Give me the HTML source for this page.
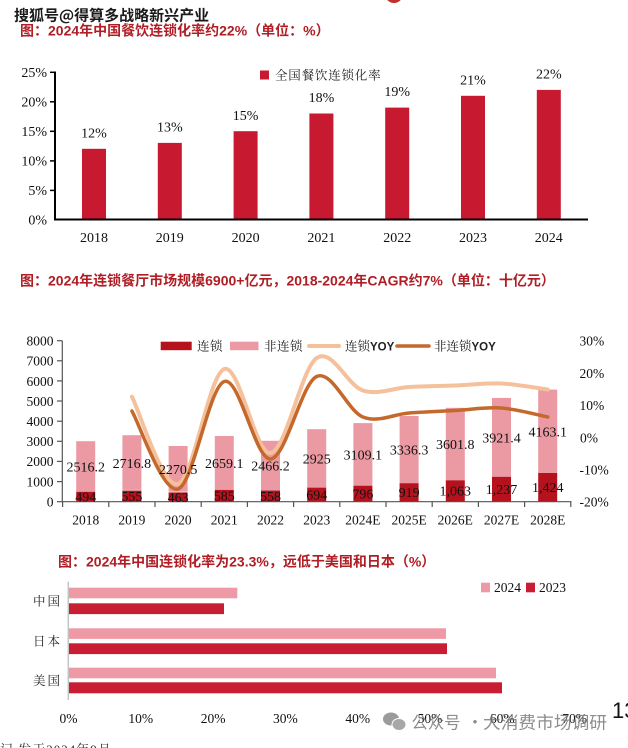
<!DOCTYPE html>
<html><head><meta charset="utf-8">
<style>
html,body{margin:0;padding:0;background:#fff;}
svg{display:block;}
.t{font-family:"Liberation Sans","Noto Sans CJK SC",sans-serif;font-weight:bold;font-size:14px;fill:#B01E25;}
.n{font-family:"Liberation Serif","Noto Serif CJK SC",serif;font-size:14px;fill:#111;}
.n2{font-family:"Liberation Serif","Noto Serif CJK SC",serif;font-size:13.5px;fill:#111;}
.cj{font-family:"Noto Serif CJK SC","Liberation Serif",serif;font-size:12.5px;fill:#222;}
.yoy{font-family:"Liberation Sans","Noto Sans CJK SC",sans-serif;font-weight:bold;font-size:11.5px;fill:#222;}
</style></head>
<body>
<svg width="628" height="748" viewBox="0 0 628 748" xmlns="http://www.w3.org/2000/svg">
<rect width="628" height="748" fill="#fff"/>
<circle cx="394" cy="-6" r="9" fill="#C0302B"/>

<!-- watermark -->
<text x="14" y="20.5" font-family="'Noto Sans CJK SC',sans-serif" font-weight="bold" font-size="15" fill="#1a1a1a" stroke="#fff" stroke-width="2.5" paint-order="stroke">搜狐号@得算多战略新兴产业</text>

<!-- ============ Chart 1 ============ -->
<text class="t" x="20" y="35.5">图：2024年中国餐饮连锁化率约22%（单位：%）</text>

<g class="n" text-anchor="end">
<text x="47" y="224.5">0%</text>
<text x="47" y="195">5%</text>
<text x="47" y="165.5">10%</text>
<text x="47" y="136">15%</text>
<text x="47" y="106.4">20%</text>
<text x="47" y="76.9">25%</text>
</g>
<g stroke="#000" stroke-width="1.5">
<line x1="50" y1="72.3" x2="55" y2="72.3"/>
<line x1="50" y1="101.8" x2="55" y2="101.8"/>
<line x1="50" y1="131.3" x2="55" y2="131.3"/>
<line x1="50" y1="160.9" x2="55" y2="160.9"/>
<line x1="50" y1="190.4" x2="55" y2="190.4"/>
</g>
<g fill="#C71A30">
<rect x="82" y="148.8" width="24" height="70.7"/>
<rect x="157.8" y="142.9" width="24" height="76.6"/>
<rect x="233.6" y="131.2" width="24" height="88.3"/>
<rect x="309.4" y="113.5" width="24" height="106"/>
<rect x="385.2" y="107.6" width="24" height="111.9"/>
<rect x="461" y="95.8" width="24" height="123.7"/>
<rect x="536.8" y="89.9" width="24" height="129.6"/>
</g>
<line x1="55" y1="71.5" x2="55" y2="220.5" stroke="#000" stroke-width="2"/>
<line x1="54" y1="219.5" x2="588" y2="219.5" stroke="#000" stroke-width="2"/>
<g class="n" text-anchor="middle">
<text x="94" y="137.5">12%</text>
<text x="169.8" y="131.5">13%</text>
<text x="245.6" y="119.8">15%</text>
<text x="321.4" y="102">18%</text>
<text x="397.2" y="96">19%</text>
<text x="473" y="84.3">21%</text>
<text x="548.8" y="78.4">22%</text>
</g>
<g class="n" text-anchor="middle">
<text x="94" y="242">2018</text>
<text x="169.8" y="242">2019</text>
<text x="245.6" y="242">2020</text>
<text x="321.4" y="242">2021</text>
<text x="397.2" y="242">2022</text>
<text x="473" y="242">2023</text>
<text x="548.8" y="242">2024</text>
</g>
<rect x="260" y="70.5" width="9" height="9" fill="#C71A30"/>
<text class="cj" x="275" y="79.5" font-size="13" letter-spacing="0.8">全国餐饮连锁化率</text>

<!-- ============ Chart 2 ============ -->
<text class="t" x="20" y="285.5">图：2024年连锁餐厅市场规模6900+亿元，2018-2024年CAGR约7%（单位：十亿元）</text>

<g class="n2" text-anchor="end">
<text x="53.5" y="506.4">0</text>
<text x="53.5" y="486.3">1000</text>
<text x="53.5" y="466.2">2000</text>
<text x="53.5" y="446.1">3000</text>
<text x="53.5" y="426">4000</text>
<text x="53.5" y="405.9">5000</text>
<text x="53.5" y="385.8">6000</text>
<text x="53.5" y="365.7">7000</text>
<text x="53.5" y="345.6">8000</text>
</g>
<g class="n2">
<text x="579.5" y="345.7">30%</text>
<text x="579.5" y="377.9">20%</text>
<text x="579.5" y="410.1">10%</text>
<text x="580" y="442.3">0%</text>
<text x="579.5" y="474.5">-10%</text>
<text x="579.5" y="506.7">-20%</text>
</g>
<g fill="#EB9AA4">
<rect x="76.2" y="441.2" width="19" height="50.6"/>
<rect x="122.4" y="435.2" width="19" height="54.7"/>
<rect x="168.6" y="446" width="19" height="45.7"/>
<rect x="214.8" y="436" width="19" height="53.9"/>
<rect x="261" y="440.8" width="19" height="49.6"/>
<rect x="307.2" y="429.2" width="19" height="58.9"/>
<rect x="353.4" y="423.1" width="19" height="62.6"/>
<rect x="399.6" y="416" width="19" height="67.2"/>
<rect x="445.8" y="407.8" width="19" height="72.5"/>
<rect x="492" y="397.9" width="19" height="78.9"/>
<rect x="538.2" y="389.6" width="19" height="83.8"/>
</g>
<g fill="#B5121E">
<rect x="76.2" y="491.8" width="19" height="9.9"/>
<rect x="122.4" y="490.5" width="19" height="11.2"/>
<rect x="168.6" y="492.4" width="19" height="9.3"/>
<rect x="214.8" y="489.9" width="19" height="11.8"/>
<rect x="261" y="490.5" width="19" height="11.2"/>
<rect x="307.2" y="487.7" width="19" height="14"/>
<rect x="353.4" y="485.7" width="19" height="16"/>
<rect x="399.6" y="483.2" width="19" height="18.5"/>
<rect x="445.8" y="480.3" width="19" height="21.4"/>
<rect x="492" y="476.8" width="19" height="24.9"/>
<rect x="538.2" y="473" width="19" height="28.7"/>
</g>
<g stroke="#555" stroke-width="1.2">
<line x1="62.3" y1="340.7" x2="62.3" y2="502"/>
<line x1="57" y1="340.7" x2="62.3" y2="340.7"/>
<line x1="57" y1="360.8" x2="62.3" y2="360.8"/>
<line x1="57" y1="380.9" x2="62.3" y2="380.9"/>
<line x1="57" y1="401" x2="62.3" y2="401"/>
<line x1="57" y1="421.2" x2="62.3" y2="421.2"/>
<line x1="57" y1="441.3" x2="62.3" y2="441.3"/>
<line x1="57" y1="461.4" x2="62.3" y2="461.4"/>
<line x1="57" y1="481.6" x2="62.3" y2="481.6"/>
<line x1="57" y1="501.7" x2="62.3" y2="501.7"/>
<line x1="62.3" y1="501.7" x2="571.5" y2="501.7"/>
<line x1="62.6" y1="501.7" x2="62.6" y2="507"/>
<line x1="108.8" y1="501.7" x2="108.8" y2="507"/>
<line x1="155" y1="501.7" x2="155" y2="507"/>
<line x1="201.2" y1="501.7" x2="201.2" y2="507"/>
<line x1="247.4" y1="501.7" x2="247.4" y2="507"/>
<line x1="293.6" y1="501.7" x2="293.6" y2="507"/>
<line x1="339.8" y1="501.7" x2="339.8" y2="507"/>
<line x1="386" y1="501.7" x2="386" y2="507"/>
<line x1="432.2" y1="501.7" x2="432.2" y2="507"/>
<line x1="478.4" y1="501.7" x2="478.4" y2="507"/>
<line x1="524.6" y1="501.7" x2="524.6" y2="507"/>
<line x1="570.8" y1="501.7" x2="570.8" y2="507"/>
</g>
<path d="M131.9,396.7 C139.6,411.25 162.7,488.62 178.1,484 C193.5,479.38 208.9,374.17 224.3,369 C239.7,363.83 255.1,454.83 270.5,453 C285.9,451.17 301.3,368.42 316.7,358 C332.1,347.58 347.5,385.67 362.9,390.5 C378.3,395.33 393.7,387.83 409.1,387 C424.5,386.17 439.9,386.08 455.3,385.5 C470.7,384.92 486.1,382.83 501.5,383.5 C516.9,384.17 540,388.5 547.7,389.5" fill="none" stroke="#F5C09C" stroke-width="4" stroke-linecap="round"/>
<path d="M131.9,411 C139.6,424 162.7,493.92 178.1,489 C193.5,484.08 208.9,386.5 224.3,381.5 C239.7,376.5 255.1,459.83 270.5,459 C285.9,458.17 301.3,383.5 316.7,376.5 C332.1,369.5 347.5,410.92 362.9,417 C378.3,423.08 393.7,414.08 409.1,413 C424.5,411.92 439.9,411.33 455.3,410.5 C470.7,409.67 486.1,406.92 501.5,408 C516.9,409.08 540,415.5 547.7,417" fill="none" stroke="#C4692B" stroke-width="3.5" stroke-linecap="round"/>
<g class="n" text-anchor="middle">
<text x="85.7" y="471.5">2516.2</text>
<text x="131.9" y="467.8">2716.8</text>
<text x="178.1" y="473.8">2270.5</text>
<text x="224.3" y="467.9">2659.1</text>
<text x="270.5" y="470.6">2466.2</text>
<text x="316.7" y="463.6">2925</text>
<text x="362.9" y="459.4">3109.1</text>
<text x="409.1" y="454.6">3336.3</text>
<text x="455.3" y="449">3601.8</text>
<text x="501.5" y="442.3">3921.4</text>
<text x="547.7" y="436.5">4163.1</text>
<text x="85.7" y="501.5">494</text>
<text x="131.9" y="500.8">555</text>
<text x="178.1" y="501.8">463</text>
<text x="224.3" y="500.6">585</text>
<text x="270.5" y="500.9">558</text>
<text x="316.7" y="499.4">694</text>
<text x="362.9" y="498.4">796</text>
<text x="409.1" y="497.2">919</text>
<text x="455.3" y="495.7">1,063</text>
<text x="501.5" y="494">1,237</text>
<text x="547.7" y="492">1,424</text>
</g>
<g class="n2" text-anchor="middle">
<text x="85.7" y="524.7">2018</text>
<text x="131.9" y="524.7">2019</text>
<text x="178.1" y="524.7">2020</text>
<text x="224.3" y="524.7">2021</text>
<text x="270.5" y="524.7">2022</text>
<text x="316.7" y="524.7">2023</text>
<text x="362.9" y="524.7">2024E</text>
<text x="409.1" y="524.7">2025E</text>
<text x="455.3" y="524.7">2026E</text>
<text x="501.5" y="524.7">2027E</text>
<text x="547.7" y="524.7">2028E</text>
</g>
<rect x="160.7" y="341.7" width="31" height="8.5" fill="#B5121E"/>
<text class="cj" x="197" y="350.5" letter-spacing="0.5">连锁</text>
<rect x="230" y="341.7" width="28.5" height="8.5" fill="#EB9AA4"/>
<text class="cj" x="264" y="350.5" letter-spacing="0.5">非连锁</text>
<line x1="309" y1="346" x2="339" y2="346" stroke="#F5C09C" stroke-width="4" stroke-linecap="round"/>
<text class="cj" x="345" y="350.5">连锁<tspan class="yoy">YOY</tspan></text>
<line x1="397" y1="346" x2="429" y2="346" stroke="#C4692B" stroke-width="3.5" stroke-linecap="round"/>
<text class="cj" x="434" y="350.5">非连锁<tspan class="yoy">YOY</tspan></text>

<!-- ============ Chart 3 ============ -->
<text class="t" x="58" y="566.5">图：2024年中国连锁化率为23.3%，远低于美国和日本（%）</text>
<line x1="68.3" y1="581.7" x2="68.3" y2="700" stroke="#c4c4c4" stroke-width="1.5"/>
<g fill="#EE9AA6">
<rect x="69" y="587.7" width="168.3" height="10.6"/>
<rect x="69" y="628.3" width="377" height="10.6"/>
<rect x="69" y="667.7" width="427" height="10.6"/>
</g>
<g fill="#C81D32">
<rect x="69" y="603.3" width="155" height="10.8"/>
<rect x="69" y="643.3" width="378" height="10.8"/>
<rect x="69" y="682.3" width="433" height="11"/>
</g>
<g class="cj" font-size="12" letter-spacing="2">
<text x="33" y="605.5">中国</text>
<text x="33" y="645.5">日本</text>
<text x="33" y="685">美国</text>
</g>
<g class="n2" text-anchor="middle">
<text x="68.5" y="723">0%</text>
<text x="140.8" y="723">10%</text>
<text x="213.1" y="723">20%</text>
<text x="285.4" y="723">30%</text>
<text x="357.7" y="723">40%</text>
<text x="430" y="723">50%</text>
<text x="502.3" y="723">60%</text>
<text x="574.6" y="723">70%</text>
</g>
<rect x="481" y="582.7" width="9" height="9.6" fill="#EE9AA6"/>
<text class="n2" x="494" y="592">2024</text>
<rect x="526" y="582.7" width="9" height="9.6" fill="#C81D32"/>
<text class="n2" x="539" y="592">2023</text>

<!-- bottom watermark -->
<g opacity="0.85">
<ellipse cx="391" cy="719" rx="8" ry="6.5" fill="#8a8a8a"/>
<ellipse cx="399" cy="724.5" rx="7" ry="6" fill="#9a9a9a" stroke="#fff" stroke-width="1"/>
<g font-family="'Noto Sans CJK SC',sans-serif" font-size="17" fill="#7a7a7a">
<text x="411.5" y="728.5" textLength="49" lengthAdjust="spacingAndGlyphs">公众号</text>
<text x="475" y="728.5" text-anchor="middle">·</text>
<text x="483" y="728.5" textLength="124" lengthAdjust="spacingAndGlyphs">大消费市场调研</text>
</g>
</g>
<text x="612" y="718" font-family="'Liberation Sans',sans-serif" font-size="22" fill="#111">13</text>
<text x="0" y="754" font-family="'Liberation Serif','Noto Serif CJK SC',serif" font-size="13" fill="#333" letter-spacing="1">记 发于2024年9月</text>
</svg>
</body></html>
